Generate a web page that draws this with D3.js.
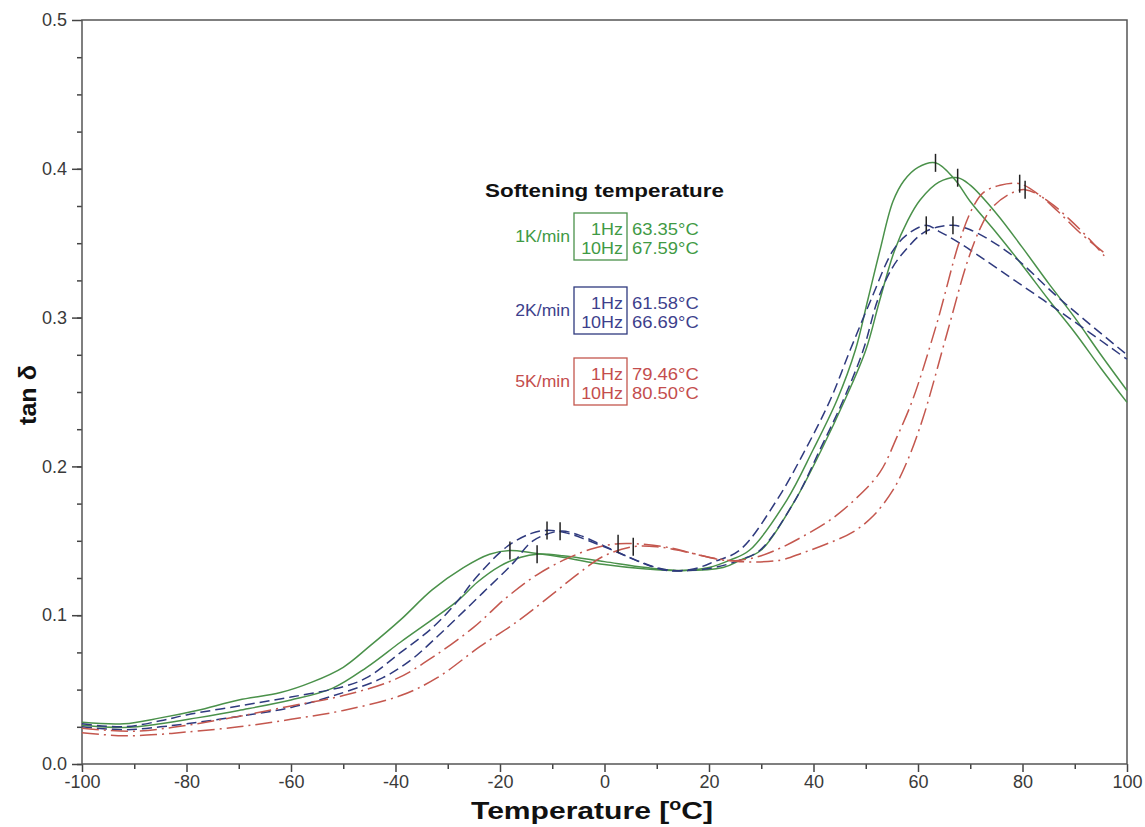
<!DOCTYPE html>
<html>
<head>
<meta charset="utf-8">
<script src="https://cdn.jsdelivr.net/npm/d3@7"></script>
<style>
  body { margin: 0; background: #fff; }
  svg { font-family: "Liberation Sans", Arial, sans-serif; }
</style>
</head>
<body>
<svg width="1145" height="827"></svg>
<script>
// tan delta curves, [temperature, tan d]
const green1Hz = [[-100,0.028],[-92,0.027],[-85,0.031],[-78,0.036],[-70,0.043],[-62,0.048],[-56,0.055],[-50,0.065],[-45,0.079],[-39,0.097],[-33,0.117],[-27,0.132],[-22,0.141],[-18.1,0.1435],[-14,0.142],[-8,0.139],[0,0.134],[8,0.131],[15,0.130],[20,0.132],[24,0.137],[27.8,0.1438],[34.9,0.1774],[39.9,0.211],[44.5,0.2446],[48,0.278],[50.4,0.312],[52.7,0.345],[55.2,0.378],[57.3,0.392],[60,0.401],[63.35,0.404],[67,0.393],[70,0.378],[75,0.357],[80,0.335],[85,0.312],[90,0.290],[95,0.266],[100,0.243]];
const green10Hz = [[-100,0.026],[-92,0.0245],[-85,0.027],[-78,0.031],[-70,0.036],[-60,0.043],[-52,0.051],[-45.5,0.065],[-39,0.082],[-33,0.097],[-28,0.110],[-24.4,0.122],[-20,0.133],[-16,0.139],[-12.9,0.141],[-8,0.140],[0,0.136],[8,0.132],[15,0.130],[22.7,0.132],[26,0.137],[30,0.1438],[36.5,0.1774],[41.5,0.211],[46,0.2446],[50,0.278],[52.7,0.312],[55.5,0.345],[58,0.365],[60.4,0.379],[64,0.391],[67.59,0.394],[70,0.389],[75,0.370],[80,0.347],[85,0.323],[90,0.300],[95,0.275],[100,0.251]];
const blue1Hz = [[-100,0.027],[-92,0.025],[-85,0.029],[-80,0.033],[-70,0.039],[-60,0.045],[-50,0.052],[-45.5,0.058],[-39,0.075],[-32.8,0.092],[-28,0.110],[-24.4,0.126],[-18.7,0.146],[-14,0.155],[-11,0.157],[-7,0.155],[-3,0.150],[2,0.143],[6,0.137],[10,0.132],[13,0.130],[17,0.131],[21,0.136],[25.9,0.1438],[33,0.1774],[38.4,0.211],[43.2,0.2446],[47,0.278],[51,0.312],[55.2,0.345],[58,0.356],[61.58,0.362],[64,0.358],[68,0.350],[76,0.331],[88,0.302],[100,0.272]];
const blue10Hz = [[-100,0.025],[-92,0.023],[-85,0.025],[-80,0.027],[-70,0.032],[-60,0.038],[-50,0.048],[-42.4,0.058],[-37,0.070],[-32.8,0.083],[-28,0.099],[-23.3,0.115],[-17.5,0.135],[-13.7,0.150],[-8.5,0.1565],[-5,0.154],[-1,0.148],[4,0.140],[8,0.134],[12,0.130],[16,0.130],[21,0.132],[25.9,0.137],[29.8,0.1438],[36.5,0.1774],[41.2,0.211],[45.7,0.2446],[49.5,0.278],[52.3,0.312],[55,0.333],[57.5,0.345],[61,0.357],[64,0.361],[66.69,0.362],[70,0.359],[77.6,0.343],[87,0.313],[100,0.275]];
const red1Hz = [[-100,0.024],[-90,0.022],[-80,0.026],[-70,0.032],[-60,0.039],[-50,0.046],[-40,0.057],[-32.8,0.072],[-25,0.092],[-18.7,0.112],[-13,0.127],[-7.2,0.138],[-2,0.145],[2.6,0.148],[8,0.1475],[13,0.145],[16.4,0.142],[22.7,0.137],[26,0.137],[30,0.140],[34.2,0.146],[38.5,0.154],[43.2,0.164],[48,0.178],[52.7,0.196],[56,0.220],[59,0.245],[63.6,0.296],[68,0.352],[70.5,0.374],[72.5,0.384],[75.7,0.389],[79.46,0.390],[83,0.383],[86.6,0.372],[91,0.357],[95.5,0.344]];
const red10Hz = [[-100,0.021],[-92,0.019],[-85,0.020],[-80,0.0215],[-70,0.025],[-60,0.030],[-50,0.036],[-39,0.046],[-32,0.058],[-23.8,0.079],[-16.2,0.097],[-10,0.114],[-5,0.128],[0,0.140],[5.5,0.146],[10,0.146],[15,0.143],[20,0.139],[25.9,0.136],[33.6,0.137],[38,0.142],[42.6,0.148],[47.6,0.156],[51.5,0.167],[55.2,0.184],[58,0.204],[61,0.233],[65.6,0.290],[69.4,0.337],[71.9,0.360],[74,0.373],[77,0.382],[80.5,0.386],[85,0.378],[89,0.366],[93,0.352],[96,0.340]];

// peak markers (first and second relaxation)
const firstPeaks = [-18.1, -12.9, -11, -8.5, 2.6, 5.5];
const softeningTemps = [63.35, 67.59, 61.58, 66.69, 79.46, 80.50];

// legend
const rates = ["1K/min", "2K/min", "5K/min"];
const freqs = ["1Hz", "10Hz"];

const xTicks = d3.range(-100, 101, 20);
const yTicks = d3.range(0, 0.51, 0.1);

const colors = { green: "#4a914a", blue: "#2f3a7e", red: "#c4574e" };
const textColors = { green: "#3f9a45", blue: "#3d3f8c", red: "#c44d4d" };

const svg = d3.select("svg");
const x = d3.scaleLinear().domain([-100, 100]).range([82, 1127]);
const y = d3.scaleLinear().domain([0, 0.5]).range([764, 20]);

// the original text is a bit wider than it is tall, stretch it
const stretch = (sel, k) => sel.each(function () {
  const w = this.getComputedTextLength();
  d3.select(this).attr("textLength", w * k).attr("lengthAdjust", "spacingAndGlyphs");
});

// minor ticks first
svg.append("g").attr("transform", "translate(0,764)")
  .call(d3.axisBottom(x).tickValues(d3.range(-90, 100, 20)).tickSize(5).tickFormat(""))
  .call(g => g.select(".domain").remove());
svg.append("g").attr("transform", "translate(82,0)")
  .call(d3.axisLeft(y).tickValues(d3.range(0, 0.5, 0.025)).tickSize(5).tickFormat(""))
  .call(g => g.select(".domain").remove());

const xAxis = svg.append("g").attr("transform", "translate(0,764)")
  .call(d3.axisBottom(x).tickValues(xTicks).tickSize(8).tickPadding(3).tickFormat(d => String(d)));
const yAxis = svg.append("g").attr("transform", "translate(82,0)")
  .call(d3.axisLeft(y).tickValues(yTicks).tickSize(10).tickPadding(5).tickFormat(d3.format(".1f")));

[xAxis, yAxis].forEach(g => {
  g.select(".domain").remove();
  g.selectAll("text").attr("font-size", 18).attr("fill", "#3a3a3a").attr("font-family", "Liberation Sans, Arial, sans-serif");
});
svg.selectAll(".tick line").attr("stroke", "#444").attr("stroke-width", 1.5);

// frame
svg.append("rect").attr("x", 82).attr("y", 20).attr("width", 1127 - 82).attr("height", 764 - 20)
  .attr("fill", "none").attr("stroke", "#555").attr("stroke-width", 1.5);

// curves
const series = [
  { data: green1Hz, col: "green", dash: null },
  { data: green10Hz, col: "green", dash: null },
  { data: blue1Hz, col: "blue", dash: "10,5" },
  { data: blue10Hz, col: "blue", dash: "10,5" },
  { data: red1Hz, col: "red", dash: "17,5,2,5" },
  { data: red10Hz, col: "red", dash: "17,5,2,5" }
];

const line = d3.line().x(d => x(d[0])).y(d => y(d[1])).curve(d3.curveCatmullRom.alpha(0.5));

series.forEach(s => {
  svg.append("path").datum(s.data)
    .attr("d", line)
    .attr("fill", "none")
    .attr("stroke", colors[s.col])
    .attr("stroke-width", 1.5)
    .attr("stroke-dasharray", s.dash);
});

// value of a curve at temperature t (linear between read points)
const valueAt = (data, t) => {
  const i = d3.bisector(d => d[0]).left(data, t);
  if (i <= 0) return data[0][1];
  if (i >= data.length) return data[data.length - 1][1];
  const a = data[i - 1], b = data[i];
  return a[1] + (b[1] - a[1]) * (t - a[0]) / (b[0] - a[0]);
};

series.forEach((s, i) => {
  [firstPeaks[i], softeningTemps[i]].forEach(t => {
    const py = y(valueAt(s.data, t));
    svg.append("line")
      .attr("x1", x(t)).attr("x2", x(t))
      .attr("y1", py - 9).attr("y2", py + 9)
      .attr("stroke", "#222").attr("stroke-width", 1.5);
  });
});

// axis titles
svg.append("text").attr("x", 592).attr("y", 819).attr("text-anchor", "middle")
  .attr("font-size", 24.5).attr("font-weight", "bold").attr("fill", "#111")
  .attr("textLength", 242).attr("lengthAdjust", "spacingAndGlyphs")
  .html('Temperature [<tspan dy="-9" font-size="16">o</tspan><tspan dy="9">C]</tspan>');
svg.append("text").attr("transform", "translate(36,395) rotate(-90)").attr("text-anchor", "middle")
  .attr("font-size", 23).attr("font-weight", "bold").attr("fill", "#111")
  .attr("textLength", 60).attr("lengthAdjust", "spacingAndGlyphs")
  .text("tan δ");

// softening temperature legend
const legend = svg.append("g");
legend.append("text").attr("x", 485).attr("y", 197)
  .attr("font-size", 19).attr("font-weight", "bold").attr("fill", "#111")
  .attr("textLength", 239).attr("lengthAdjust", "spacingAndGlyphs")
  .text("Softening temperature");

const boxTops = [213, 287, 358];
rates.forEach((r, k) => {
  const c = ["green", "blue", "red"][k];
  const top = boxTops[k];
  legend.append("rect").attr("x", 574).attr("y", top).attr("width", 53).attr("height", 47)
    .attr("fill", "none").attr("stroke", colors[c]).attr("stroke-width", 1.3);
  legend.append("text").attr("x", 570).attr("y", top + 29).attr("text-anchor", "end")
    .attr("font-size", 16).attr("fill", textColors[c]).text(r)
    .call(stretch, 1.1);
  freqs.forEach((f, j) => {
    const by = top + 22 + j * 19;
    legend.append("text").attr("x", 623).attr("y", by).attr("text-anchor", "end")
      .attr("font-size", 16).attr("fill", textColors[c]).text(f)
      .call(stretch, 1.12);
    legend.append("text").attr("x", 632).attr("y", by)
      .attr("font-size", 16).attr("fill", textColors[c])
      .text(softeningTemps[k * 2 + j].toFixed(2) + "°C")
      .call(stretch, 1.15);
  });
});
</script>
</body>
</html>
